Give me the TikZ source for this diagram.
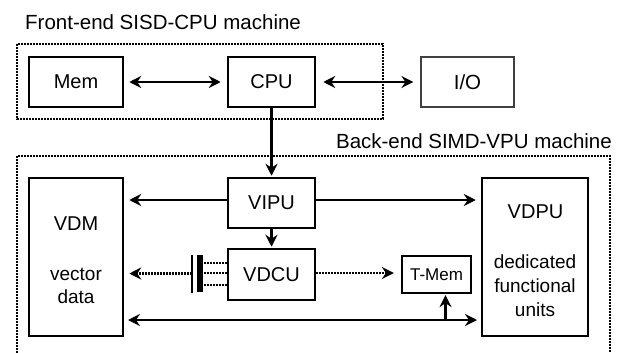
\documentclass[tikz,border=0pt]{standalone}
\usepackage{fontspec}
\setmainfont{Liberation Sans}
\usetikzlibrary{arrows.meta}
\begin{document}
\begin{tikzpicture}[x=1pt,y=-1pt,
  >={Stealth[length=12pt,width=12pt,inset=4pt]},
  box/.style={draw, line width=2.5pt, inner sep=0pt, font=\fontsize{20}{23}\selectfont},
  thinbox/.style={draw=black!75, line width=1.2pt, inner sep=0pt, font=\fontsize{20.5}{23}\selectfont},
  txt/.style={inner sep=0pt, font=\fontsize{19}{22}\selectfont},
  bigtxt/.style={inner sep=0pt, font=\fontsize{20}{23}\selectfont},
  title/.style={inner sep=0pt, font=\fontsize{20.5}{24}\selectfont},
  frame/.style={line width=2.6pt, dash pattern=on 2pt off 1pt},
  arr/.style={line width=2.6pt},
  dotarr/.style={line width=2.4pt, dash pattern=on 2pt off 1pt}
]
\useasboundingbox (0,0) rectangle (618,353);
\fill[white] (0,0) rectangle (618,353);

% titles
\node[title, anchor=base west] (t1) at (25,30) {Front-end SISD-CPU machine};
\node[title, anchor=base east] (t2) at (612,148) {Back-end SIMD-VPU machine};

% frames
\draw[frame] (17,44) rectangle (383,119);
\draw[frame] (17,353) -- (17,156) -- (610,156) -- (610,353);

% front-end boxes
\node[box, minimum width=94pt, minimum height=50pt] (Mem) at (76,82) {Mem};
\node[box, minimum width=87pt, minimum height=50pt] (CPU) at (271.5,82) {CPU};
\node[thinbox, minimum width=93pt, minimum height=50pt] (IO) at (467.5,82) {I/O};

% back-end boxes
\node[box, minimum width=87pt, minimum height=50pt] (VIPU) at (271.5,203) {VIPU};
\node[box, minimum width=87pt, minimum height=51pt] (VDCU) at (271.5,274.5) {VDCU};
\node[box, minimum width=94pt, minimum height=158pt] (VDM) at (76,257) {};
\node[box, minimum width=106pt, minimum height=158pt] (VDPU) at (535,257) {};
\node[box, line width=2.2pt, minimum width=69pt, minimum height=37pt, font=\fontsize{17}{20}\selectfont] (TMem) at (436.5,274.5) {T-Mem};

% texts inside tall boxes
\node[bigtxt, anchor=base] (vdmL) at (76,230) {VDM};
\node[txt, anchor=base] (vdm1) at (76,280) {vector};
\node[txt, anchor=base] (vdm2) at (76,303) {data};
\node[bigtxt, anchor=base] (vdpuL) at (535.5,218) {VDPU};
\node[txt, anchor=base] (vdpu1) at (535,268) {dedicated};
\node[txt, anchor=base] (vdpu2) at (535,292) {functional};
\node[txt, anchor=base] (vdpu3) at (535,316) {units};

% bar / separator
\node[fill=black, inner sep=0pt, minimum width=6.5pt, minimum height=37pt] (bar) at (200,273.5) {};
\node[draw, line width=1.5pt, inner sep=0pt, minimum width=0pt, minimum height=38pt] (thin) at (192,274) {};

% front-end connectors
\draw[arr,<->, shorten <=5pt, shorten >=6pt] (Mem) -- (CPU);
\draw[arr,<->, shorten <=7pt, shorten >=7pt] (CPU) -- (IO);
\draw[arr,->, shorten >=1pt] (CPU) -- (VIPU);

% back-end connectors
\draw[arr,->, shorten >=5pt] ([yshift=3pt]VIPU.west) -- ([yshift=3pt]VIPU.west -| VDM.east);
\draw[arr,->, shorten >=5pt] ([yshift=3pt]VIPU.east) -- ([yshift=3pt]VIPU.east -| VDPU.west);
\draw[arr,->, shorten >=1pt] (VIPU) -- (VDCU);

\draw[dotarr] ([yshift=11.5pt]VDCU.west) -- ([yshift=11.5pt]VDCU.west -| bar.east);
\draw[dotarr] ([yshift=1.5pt]VDCU.west) -- ([yshift=1.5pt]VDCU.west -| bar.east);
\draw[dotarr] ([yshift=-10.5pt]VDCU.west) -- ([yshift=-10.5pt]VDCU.west -| bar.east);
\draw[dotarr,->, shorten >=5pt] ([yshift=0.5pt]thin.center) -- ([yshift=0.5pt]thin.center -| VDM.east);
\draw[dotarr,->, shorten >=7pt] ([yshift=1.5pt]VDCU.east) -- ([yshift=1.5pt]VDCU.east -| TMem.west);

\coordinate (busL) at (123,320);
\coordinate (busR) at (482,320);
\draw[arr,<->, shorten <=5pt, shorten >=5pt] (busL) -- (busR);
\draw[arr,->, shorten >=1pt] ([xshift=9pt]TMem.south |- busL) -- ([xshift=9pt]TMem.south);
\end{tikzpicture}
\end{document}
